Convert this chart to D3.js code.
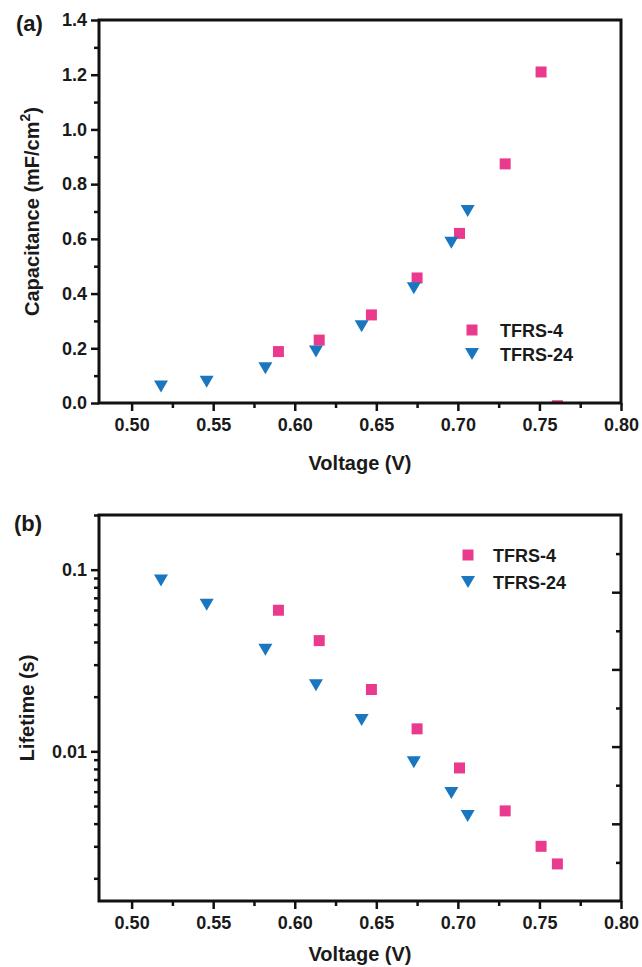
<!DOCTYPE html>
<html>
<head>
<meta charset="utf-8">
<script src="https://cdn.jsdelivr.net/npm/d3@7"></script>
<style>
  body { margin: 0; background: #fff; }
  text { font-family: "Liberation Sans", Arial, sans-serif; font-weight: bold; fill: #1a1a1a; }
</style>
</head>
<body>
<div id="app"></div>
<script>
const WIDTH = 642
const HEIGHT = 967

// TFRS-4 (pink squares)
const voltage4 = [0.590, 0.615, 0.647, 0.675, 0.701, 0.729, 0.751, 0.761]
const capacitance4 = [0.188, 0.230, 0.322, 0.457, 0.620, 0.874, 1.210, -0.01]
const lifetime4 = [0.0598, 0.0407, 0.0219, 0.0133, 0.0081, 0.0047, 0.0030, 0.0024]

// TFRS-24 (blue triangles)
const voltage24 = [0.518, 0.546, 0.582, 0.613, 0.641, 0.673, 0.696, 0.706]
const capacitance24 = [0.060, 0.078, 0.127, 0.188, 0.281, 0.419, 0.586, 0.702]
const lifetime24 = [0.0873, 0.0642, 0.0363, 0.0231, 0.0149, 0.0087, 0.0059, 0.0044]

const seriesNames = ['TFRS-4', 'TFRS-24']
const xTickLabels = ['0.50', '0.55', '0.60', '0.65', '0.70', '0.75', '0.80']
const capTickLabels = ['0.0', '0.2', '0.4', '0.6', '0.8', '1.0', '1.2', '1.4']
const lifeTickLabels = ['0.01', '0.1']

const PINK = '#ea3a8d'
const BLUE = '#1b76c0'

const LEFT = 99, RIGHT = 621

const svg = d3.select('#app').append('svg')
  .attr('width', WIDTH)
  .attr('height', HEIGHT)
  .style('background-color', 'white')

const x = d3.scaleLinear().domain([0.48, 0.80]).range([LEFT, RIGHT])
const yCap = d3.scaleLinear().domain([0, 1.4]).range([403, 20])
const yLife = d3.scaleLog().domain([0.0015, 0.2]).range([901, 515])
const yRight = d3.scaleLinear().domain([0, 1]).range([901, 515]) // unlabeled right axis of (b)

const xMajor = xTickLabels.map(Number)
const xMinor = d3.range(0.525, 0.8, 0.05)

// square and down-pointing triangle, centred on their box
const square = s => `M${-s/2},${-s/2}h${s}v${s}h${-s}Z`
const triDown = (w, h) => `M${-w/2},${-h/2}L${w/2},${-h/2}L0,${h/2}Z`

function styleAxis(g) {
  g.select('.domain').remove()
  g.selectAll('line').attr('stroke', '#111').attr('stroke-width', 2.5)
  g.selectAll('text').style('font-size', '18px').attr('fill', '#1a1a1a')
}

function panel(yScale, top, bottom, clipId) {
  const g = svg.append('g')
  g.append('clipPath').attr('id', clipId)
    .append('rect').attr('x', LEFT).attr('y', top).attr('width', RIGHT - LEFT).attr('height', bottom - top)

  // x axis
  g.append('g').attr('transform', `translate(0,${bottom})`)
    .call(d3.axisBottom(x).tickValues(xMajor).tickFormat((d, i) => xTickLabels[i]).tickSize(8).tickPadding(7))
    .call(styleAxis)
  g.append('g').attr('transform', `translate(0,${bottom})`)
    .call(d3.axisBottom(x).tickValues(xMinor).tickFormat('').tickSize(5))
    .call(styleAxis)
  return g
}

// ---------- (a) capacitance ----------
const pa = panel(yCap, 20, 403, 'clipA')

pa.append('g').attr('transform', `translate(${LEFT},0)`)
  .call(d3.axisLeft(yCap).tickValues(capTickLabels.map(Number)).tickFormat((d, i) => capTickLabels[i]).tickSize(8).tickPadding(4))
  .call(styleAxis)
pa.append('g').attr('transform', `translate(${LEFT},0)`)
  .call(d3.axisLeft(yCap).tickValues(d3.range(0.1, 1.4, 0.2)).tickFormat('').tickSize(5))
  .call(styleAxis)

const ptsA = pa.append('g').attr('clip-path', 'url(#clipA)')
ptsA.selectAll('path.s4')
  .data(d3.zip(voltage4, capacitance4))
  .enter()
.append('path')
  .attr('class', 's4')
  .attr('d', square(11))
  .attr('fill', PINK)
  .attr('transform', d => `translate(${x(d[0])},${yCap(d[1])})`)
ptsA.selectAll('path.s24')
  .data(d3.zip(voltage24, capacitance24))
  .enter()
.append('path')
  .attr('class', 's24')
  .attr('d', triDown(14, 12))
  .attr('fill', BLUE)
  .attr('transform', d => `translate(${x(d[0])},${yCap(d[1])})`)

pa.append('rect')
  .attr('x', LEFT).attr('y', 20).attr('width', RIGHT - LEFT).attr('height', 403 - 20)
  .attr('fill', 'none').attr('stroke', '#111').attr('stroke-width', 3)

pa.append('text').attr('x', 16).attr('y', 31).style('font-size', '22px').text('(a)')
pa.append('text').attr('x', (LEFT + RIGHT) / 2).attr('y', 470).attr('text-anchor', 'middle')
  .style('font-size', '20px').text('Voltage (V)')
const capLabel = pa.append('text')
  .attr('transform', `translate(39,${(20 + 403) / 2}) rotate(-90)`)
  .attr('text-anchor', 'middle')
  .style('font-size', '20px')
capLabel.append('tspan').text('Capacitance (mF/cm')
capLabel.append('tspan').attr('dy', -9).style('font-size', '14px').text('2')
capLabel.append('tspan').attr('dy', 9).text(')')

// legend (a)
const legA = pa.append('g').attr('transform', 'translate(472,330)')
legA.append('path').attr('d', square(11)).attr('fill', PINK)
legA.append('path').attr('d', triDown(14, 12)).attr('fill', BLUE).attr('transform', 'translate(0,24)')
legA.selectAll('text.leg').data(seriesNames).enter()
.append('text').attr('class', 'leg')
  .attr('x', 28).attr('y', (d, i) => i * 24 + 6.5)
  .style('font-size', '18px').text(d => d)

// ---------- (b) lifetime ----------
const pb = panel(yLife, 515, 901, 'clipB')

pb.append('g').attr('transform', `translate(${LEFT},0)`)
  .call(d3.axisLeft(yLife).tickValues(lifeTickLabels.map(Number)).tickFormat((d, i) => lifeTickLabels[i]).tickSize(8).tickPadding(4))
  .call(styleAxis)
pb.append('g').attr('transform', `translate(${LEFT},0)`)
  .call(d3.axisLeft(yLife).tickValues(yLife.ticks().filter(v => !lifeTickLabels.map(Number).some(m => Math.abs(m - v) < 1e-9))).tickFormat('').tickSize(5))
  .call(styleAxis)

// right axis: plain inward ticks
pb.append('g').attr('transform', `translate(${RIGHT},0)`)
  .call(d3.axisLeft(yRight).tickValues(d3.range(0.2, 1, 0.2)).tickFormat('').tickSize(9))
  .call(styleAxis)
  .selectAll('line').attr('x2', -9)
pb.append('g').attr('transform', `translate(${RIGHT},0)`)
  .call(d3.axisLeft(yRight).tickValues(d3.range(0.1, 1, 0.2)).tickFormat('').tickSize(5))
  .call(styleAxis)
  .selectAll('line').attr('x2', -5)

const ptsB = pb.append('g').attr('clip-path', 'url(#clipB)')
ptsB.selectAll('path.s4')
  .data(d3.zip(voltage4, lifetime4))
  .enter()
.append('path')
  .attr('class', 's4')
  .attr('d', square(11))
  .attr('fill', PINK)
  .attr('transform', d => `translate(${x(d[0])},${yLife(d[1])})`)
ptsB.selectAll('path.s24')
  .data(d3.zip(voltage24, lifetime24))
  .enter()
.append('path')
  .attr('class', 's24')
  .attr('d', triDown(14, 12))
  .attr('fill', BLUE)
  .attr('transform', d => `translate(${x(d[0])},${yLife(d[1])})`)

pb.append('rect')
  .attr('x', LEFT).attr('y', 515).attr('width', RIGHT - LEFT).attr('height', 901 - 515)
  .attr('fill', 'none').attr('stroke', '#111').attr('stroke-width', 3)

pb.append('text').attr('x', 14).attr('y', 531).style('font-size', '22px').text('(b)')
pb.append('text').attr('x', (LEFT + RIGHT) / 2).attr('y', 961).attr('text-anchor', 'middle')
  .style('font-size', '20px').text('Voltage (V)')
pb.append('text')
  .attr('transform', `translate(34,${(515 + 901) / 2}) rotate(-90)`)
  .attr('text-anchor', 'middle')
  .style('font-size', '20px')
  .text('Lifetime (s)')

// legend (b)
const legB = pb.append('g').attr('transform', 'translate(468,555)')
legB.append('path').attr('d', square(11)).attr('fill', PINK)
legB.append('path').attr('d', triDown(14, 12)).attr('fill', BLUE).attr('transform', 'translate(0,27)')
legB.selectAll('text.leg').data(seriesNames).enter()
.append('text').attr('class', 'leg')
  .attr('x', 25).attr('y', (d, i) => i * 27 + 6.5)
  .style('font-size', '18px').text(d => d)
</script>
</body>
</html>
